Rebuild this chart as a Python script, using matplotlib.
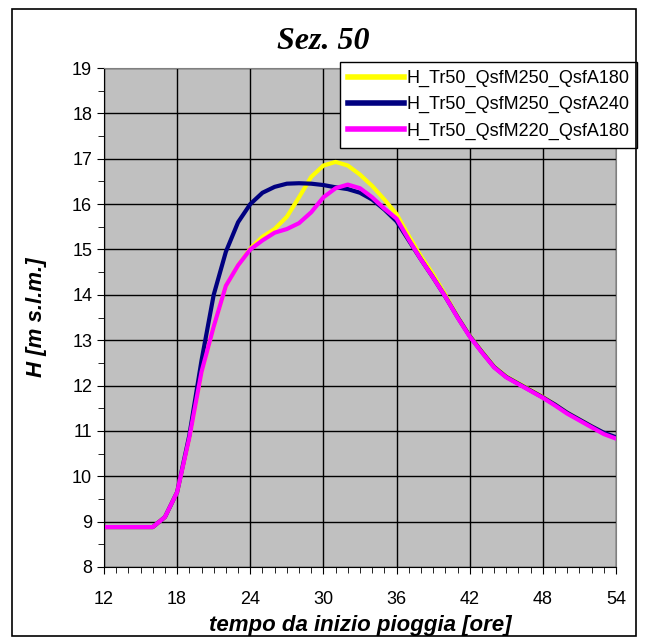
import matplotlib
matplotlib.use("Agg")
import matplotlib.pyplot as plt
from matplotlib.patches import Rectangle
from matplotlib.ticker import MultipleLocator

# ====== dati ======
ore = list(range(12, 55))

# H_Tr50_QsfM250_QsfA180
h_250_180 = [8.88, 8.88, 8.88, 8.88, 8.88, 9.10, 9.65, 10.85, 12.30, 13.30,
             14.20, 14.65, 15.02, 15.28, 15.45, 15.72, 16.15, 16.60, 16.85, 16.93,
             16.85, 16.65, 16.40, 16.10, 15.78, 15.30, 14.85, 14.45, 14.00, 13.52,
             13.10, 12.75, 12.42, 12.20, 12.05, 11.90, 11.75, 11.58, 11.40, 11.25,
             11.10, 10.95, 10.85]

# H_Tr50_QsfM250_QsfA240
h_250_240 = [8.88, 8.88, 8.88, 8.88, 8.88, 9.10, 9.65, 10.90, 12.55, 14.00,
             14.95, 15.60, 16.00, 16.25, 16.38, 16.45, 16.46, 16.45, 16.42, 16.37,
             16.33, 16.25, 16.10, 15.88, 15.62, 15.20, 14.78, 14.38, 13.96, 13.51,
             13.09, 12.74, 12.41, 12.19, 12.04, 11.89, 11.74, 11.58, 11.40, 11.25,
             11.10, 10.96, 10.86]

# H_Tr50_QsfM220_QsfA180
h_220_180 = [8.88, 8.88, 8.88, 8.88, 8.88, 9.10, 9.65, 10.85, 12.30, 13.30,
             14.20, 14.65, 15.00, 15.20, 15.37, 15.45, 15.58, 15.82, 16.15, 16.35,
             16.43, 16.35, 16.15, 15.90, 15.68, 15.22, 14.78, 14.38, 13.96, 13.50,
             13.08, 12.73, 12.40, 12.18, 12.03, 11.88, 11.73, 11.56, 11.38, 11.23,
             11.08, 10.93, 10.83]

etichette = [
    "H_Tr50_QsfM250_QsfA180",
    "H_Tr50_QsfM250_QsfA240",
    "H_Tr50_QsfM220_QsfA180",
]
colori = ["#FFFF00", "#000080", "#FF00FF"]

# ====== grafico ======
plt.rcParams["font.family"] = ["Liberation Sans", "DejaVu Sans"]

fig = plt.figure(figsize=(6.47, 6.38), dpi=100)
ax = fig.add_axes([0.1607, 0.1113, 0.7914, 0.7821])
ax.set_facecolor("#C0C0C0")

for serie, lab, col in zip([h_250_180, h_250_240, h_220_180], etichette, colori):
    ax.plot(ore, serie, color=col, lw=3, label=lab, solid_joinstyle="round")

ax.set_xlim(12, 54)
ax.set_ylim(8, 19)
ax.xaxis.set_major_locator(MultipleLocator(6))
ax.xaxis.set_minor_locator(MultipleLocator(1))
ax.yaxis.set_major_locator(MultipleLocator(1))
ax.yaxis.set_minor_locator(MultipleLocator(0.5))
ax.grid(True, which="major", color="black", lw=1.0)
ax.set_axisbelow(True)

ax.tick_params(which="both", direction="out", labelsize=13, color="black")
ax.tick_params(which="major", length=5)
ax.tick_params(which="minor", length=4)
ax.tick_params(axis="x", pad=12)

for s in ["top", "right"]:
    ax.spines[s].set_color("#808080")
for s in ["left", "bottom"]:
    ax.spines[s].set_color("black")

ax.set_xlabel("tempo da inizio pioggia [ore]", fontsize=16,
              fontweight="bold", fontstyle="italic", labelpad=5)
ax.set_ylabel("H [m s.l.m.]", fontsize=16,
              fontweight="bold", fontstyle="italic", labelpad=18)

fig.text(0.5, 0.935, "Sez. 50", ha="center", va="center",
         family="Liberation Serif", fontsize=23,
         fontweight="bold", fontstyle="italic")

leg = ax.legend(loc="upper right", bbox_to_anchor=(0.985, 0.903),
                bbox_transform=fig.transFigure, borderaxespad=0,
                fancybox=False, framealpha=1, edgecolor="black",
                fontsize=13, handlelength=3.1, handletextpad=0.1,
                labelspacing=0.5, borderpad=0.45)
leg.get_frame().set_linewidth(1.0)
for l in leg.get_lines():
    l.set_linewidth(4)

fig.add_artist(Rectangle((0.0185, 0.003), 0.9645, 0.983,
                         transform=fig.transFigure, fill=False,
                         edgecolor="black", lw=1.2))

plt.savefig("out.png", dpi=100)
